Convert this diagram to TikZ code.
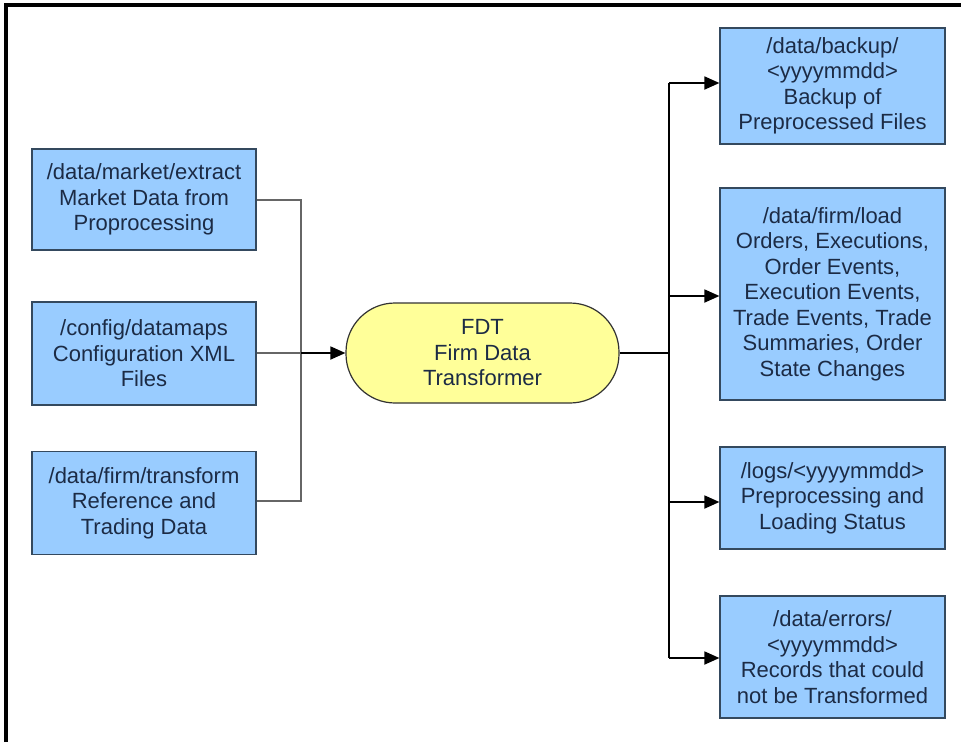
\documentclass[tikz,border=0pt]{standalone}
\usepackage{fontspec}
\setmainfont{Liberation Sans}
\usetikzlibrary{arrows.meta}
\definecolor{boxblue}{HTML}{99CCFF}
\definecolor{boxline}{HTML}{34495E}
\definecolor{txt}{HTML}{1C2B45}
\definecolor{pillfill}{HTML}{FFFF99}
\tikzset{
  filebox/.style={draw=boxline, line width=1.2pt, fill=boxblue, text=txt, align=center,
    minimum width=224pt, inner sep=0pt, font=\fontsize{22}{25.5}\selectfont},
  pill/.style={draw=black!80, line width=1.2pt, fill=pillfill, text=txt, align=center,
    minimum width=273pt, minimum height=100pt, rounded corners=49pt, inner sep=0pt,
    font=\fontsize{22}{25.5}\selectfont},
  inline/.style={draw=black!60, line width=1.4pt},
  outline/.style={draw=black, line width=1.8pt},
  tip/.style={-{Triangle[length=15pt,width=13pt]}},
  frameline/.style={line width=4pt, draw=black}
}
\begin{document}
\begin{tikzpicture}[x=1pt,y=-1pt]
\useasboundingbox (0,0) rectangle (961,742);
\fill[white] (0,0) rectangle (961,742);
\draw[frameline] (6,742) -- (6,5) -- (961,5);

% left boxes
\node[filebox, minimum height=101pt] (l1) at (144,199.5) {/data/market/extract\\Market Data from\\Proprocessing};
\node[filebox, minimum height=103pt] (l2) at (144,353.5) {/config/datamaps\\Configuration XML\\Files};
\node[filebox, minimum height=103pt] (l3) at (144,503) {/data/firm/transform\\Reference and\\Trading Data};

% central
\node[pill] (fdt) at (482.5,353) {FDT\\Firm Data\\Transformer};

% right boxes
\node[filebox, minimum width=225pt, minimum height=116pt] (r1) at (832.5,86) {/data/backup/\\<yyyymmdd>\\Backup of\\Preprocessed Files};
\node[filebox, minimum width=225pt, minimum height=212pt] (r2) at (832.5,294) {/data/firm/load\\Orders, Executions,\\Order Events,\\Execution Events,\\Trade Events, Trade\\Summaries, Order\\State Changes};
\node[filebox, minimum width=225pt, minimum height=102pt] (r3) at (832.5,498) {/logs/<yyyymmdd>\\Preprocessing and\\Loading Status};
\node[filebox, minimum width=225pt, minimum height=122pt] (r4) at (832.5,657) {/data/errors/\\<yyyymmdd>\\Records that could\\not be Transformed};

% left connectors
\coordinate (jl1) at (301,200);
\coordinate (jl3) at (301,501);
\draw[inline] (l1.east |- jl1) -- (jl1) -- (jl3) -- (l3.east |- jl3);
\draw[inline] (l2.east |- fdt.west) -- (301,353);
\draw[outline, tip] (301,353) -- (fdt.west);

% right connectors
\coordinate (jr) at (669,353);
\coordinate (jrt) at (669,83);
\coordinate (jrb) at (669,658);
\draw[outline] (fdt.east) -- (jr);
\draw[outline] (jrt) -- (jrb);
\draw[outline, tip] (jrt) -- (r1.west |- jrt);
\draw[outline, tip] (669,296) -- (r2.west |- 669,296);
\draw[outline, tip] (669,502) -- (r3.west |- 669,502);
\draw[outline, tip] (jrb) -- (r4.west |- jrb);
\end{tikzpicture}
\end{document}
